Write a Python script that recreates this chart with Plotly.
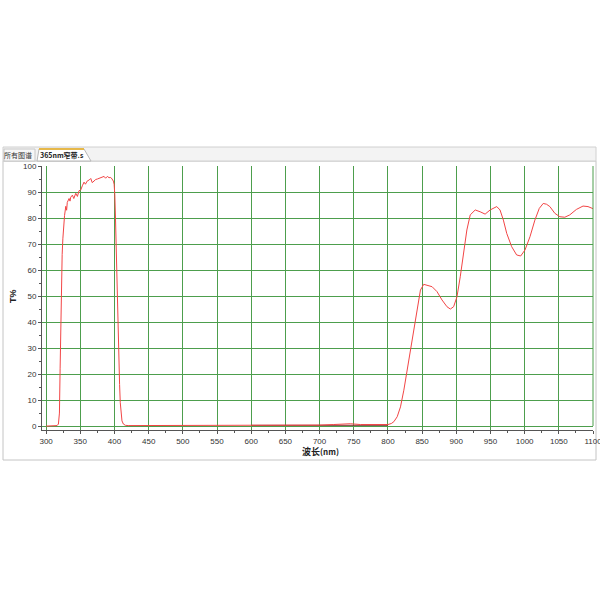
import plotly.graph_objects as go

# Transmission spectrum (wavelength nm, T%)
wavelength = [300, 310, 316, 318, 319.5, 320.5, 321.5, 322.5, 323.5, 324.5, 325.5, 327,
              328.8, 330, 331, 333.6, 335, 336, 338.5, 340.5, 343.4, 345.8, 348.2, 350.7,
              353, 355.5, 357.5, 360.4, 363, 365.3, 367.5, 370, 372.5, 375, 377.5, 380,
              382.5, 384.8, 387, 389.6, 392, 394.5, 396.5, 398.4, 399.5, 400.5, 401.5,
              402.5, 403.5, 404.5, 405.5, 406.5, 407.5, 408.5, 409.5, 411, 413, 416, 420,
              500, 600, 700, 720, 735, 745, 760, 790, 800, 805, 808.7, 813.6, 818.4, 823.3,
              828.2, 833, 837.9, 842.7, 847.6, 852.4, 857.3, 864.6, 871.8, 879.1, 886.4,
              891.3, 896.1, 901, 905.8, 910.7, 915.5, 920.4, 927.7, 934.9, 942.2, 949.5,
              959.2, 964, 968.9, 973.8, 981, 988.3, 994.2, 1000.5, 1007.8, 1015, 1021.4,
              1027.2, 1032, 1036.9, 1044.2, 1051.5, 1058.7, 1066, 1075.7, 1085.4, 1092.7, 1100]
transmission = [0, 0, 0.2, 0.8, 5, 22, 40, 55, 66, 72, 77, 81,
                84.5, 83, 86, 87.5, 86.5, 88, 88.8, 87.5, 89.5, 88.3, 90.5, 90.8,
                92.4, 93.8, 93, 94.3, 94.6, 95.2, 93.6, 94.3, 94.8, 95, 95.3, 95.4,
                95.7, 96, 95.3, 96, 95.5, 95.6, 95, 94.2, 93, 89, 80,
                68, 57, 46, 35, 25, 16, 9, 5, 2, 0.8, 0.3, 0.2,
                0.2, 0.2, 0.4, 0.6, 0.9, 0.9, 0.6, 0.4, 0.6, 1.0, 1.7, 3.6, 7.4, 13.8,
                21.5, 29.2, 36.9, 45.9, 52.3, 54.5, 54.2, 53.6, 51.7, 48.5, 45.9,
                45, 45.9, 49.7, 57.4, 66.4, 75.4, 81.2, 83.1, 82.4, 81.5, 83.1,
                84.4, 83.1, 79.2, 74.1, 69, 65.8, 65.4, 67.7, 72.8, 79.2, 83.7,
                85.6, 85.3, 84.4, 81.8, 80.5, 80.3, 81.2, 83.3, 84.6, 84.4, 83.6]

# faint dark baseline segment
wavelength2 = [600, 650, 700, 750, 800]
transmission2 = [0.3, 0.3, 0.3, 0.3, 0.3]

x_ticks = list(range(300, 1101, 50))
y_ticks = list(range(0, 101, 10))

# page pixel -> paper helpers (plot area in page px: x 42..593, y 166..430)
def px(x):
    return (x - 42) / 551.0

def py(y):
    return (430 - y) / 264.0

fig = go.Figure()
fig.add_trace(go.Scatter(x=wavelength2, y=transmission2, mode="lines",
                         line=dict(color="#7a3030", width=1), hoverinfo="skip"))
fig.add_trace(go.Scatter(x=wavelength, y=transmission, mode="lines",
                         line=dict(color="#f24545", width=1)))

grid_color = "#4d9e4d"
fig.update_xaxes(range=[294, 1100], tickvals=x_ticks, ticktext=[str(v) for v in x_ticks],
                 showgrid=True, gridcolor=grid_color, gridwidth=1,
                 showline=True, linecolor="#555555", linewidth=1,
                 ticks="outside", ticklen=3, tickcolor="#555555",
                 ticklabeloverflow="allow", automargin=False,
                 minor=dict(dtick=25, tick0=300, ticks="outside", ticklen=2, tickcolor="#555555", showgrid=False),
                 zeroline=False, tickfont=dict(family="Liberation Sans", size=8, color="#333333"))
fig.update_yaxes(range=[-1.5, 100], tickvals=y_ticks, automargin=False,
                 showgrid=True, gridcolor=grid_color, gridwidth=1,
                 showline=True, linecolor="#555555", linewidth=1,
                 ticks="outside", ticklen=3, tickcolor="#555555",
                 minor=dict(dtick=5, tick0=0, ticks="outside", ticklen=2, tickcolor="#555555", showgrid=False),
                 zeroline=False, tickfont=dict(family="Liberation Sans", size=8, color="#333333"))

shapes = [
    # window frame
    dict(type="rect", xref="paper", yref="paper", x0=px(3), x1=px(596), y0=py(460), y1=py(161),
         line=dict(color="#c4c4c4", width=1), layer="below"),
    # tab strip
    dict(type="rect", xref="paper", yref="paper", x0=px(3), x1=px(596), y0=py(161), y1=py(147),
         fillcolor="#f3f3f3", line=dict(color="#d0d0d0", width=1), layer="below"),
    # first tab
    dict(type="rect", xref="paper", yref="paper", x0=px(4), x1=px(35), y0=py(161), y1=py(149),
         fillcolor="#f7f7f7", line=dict(color="#c8c8c8", width=1), layer="below"),
    # active tab
    dict(type="path", xref="paper", yref="paper",
         path=f"M {px(37)},{py(161)} L {px(39)},{py(149)} L {px(84)},{py(149)} L {px(91)},{py(161)} Z",
         fillcolor="#ffffff", line=dict(color="#b8b8b8", width=1), layer="below"),
    dict(type="line", xref="paper", yref="paper", x0=px(39), x1=px(84), y0=py(149), y1=py(149),
         line=dict(color="#e6b84a", width=2)),
    # right green border of plot
    dict(type="line", xref="paper", yref="paper", x0=1, x1=1, y0=py(426), y1=1,
         line=dict(color=grid_color, width=1)),
]

annotations = [
    dict(text="<b>T%</b>", x=px(13), y=py(296), textangle=-90,
         font=dict(family="Liberation Sans", size=9, color="#222222")),
    dict(text="<b>波长</b><span style='font-size:8px'><b>(nm)</b></span>", x=px(320), y=py(451),
         font=dict(family="Noto Sans CJK SC", size=9, color="#222222")),
    dict(text="所有图谱", x=px(18), y=py(155),
         font=dict(family="Noto Sans CJK SC", size=7, color="#333333")),
    dict(text="<b>365nm窄带.s</b>", x=px(62), y=py(155),
         font=dict(family="Noto Sans CJK SC", size=7, color="#222222")),
]
for a in annotations:
    a.update(xref="paper", yref="paper", showarrow=False, xanchor="center", yanchor="middle")

fig.update_layout(width=600, height=600, margin=dict(l=42, r=7, t=166, b=170),
                  paper_bgcolor="white", plot_bgcolor="white", showlegend=False,
                  shapes=shapes, annotations=annotations)

# remove the browser's default 8px body margin so the figure sits at (0, 0)
fig.write_html("out.html", config={"displayModeBar": False},
               post_script="document.body.style.margin='0px';")
